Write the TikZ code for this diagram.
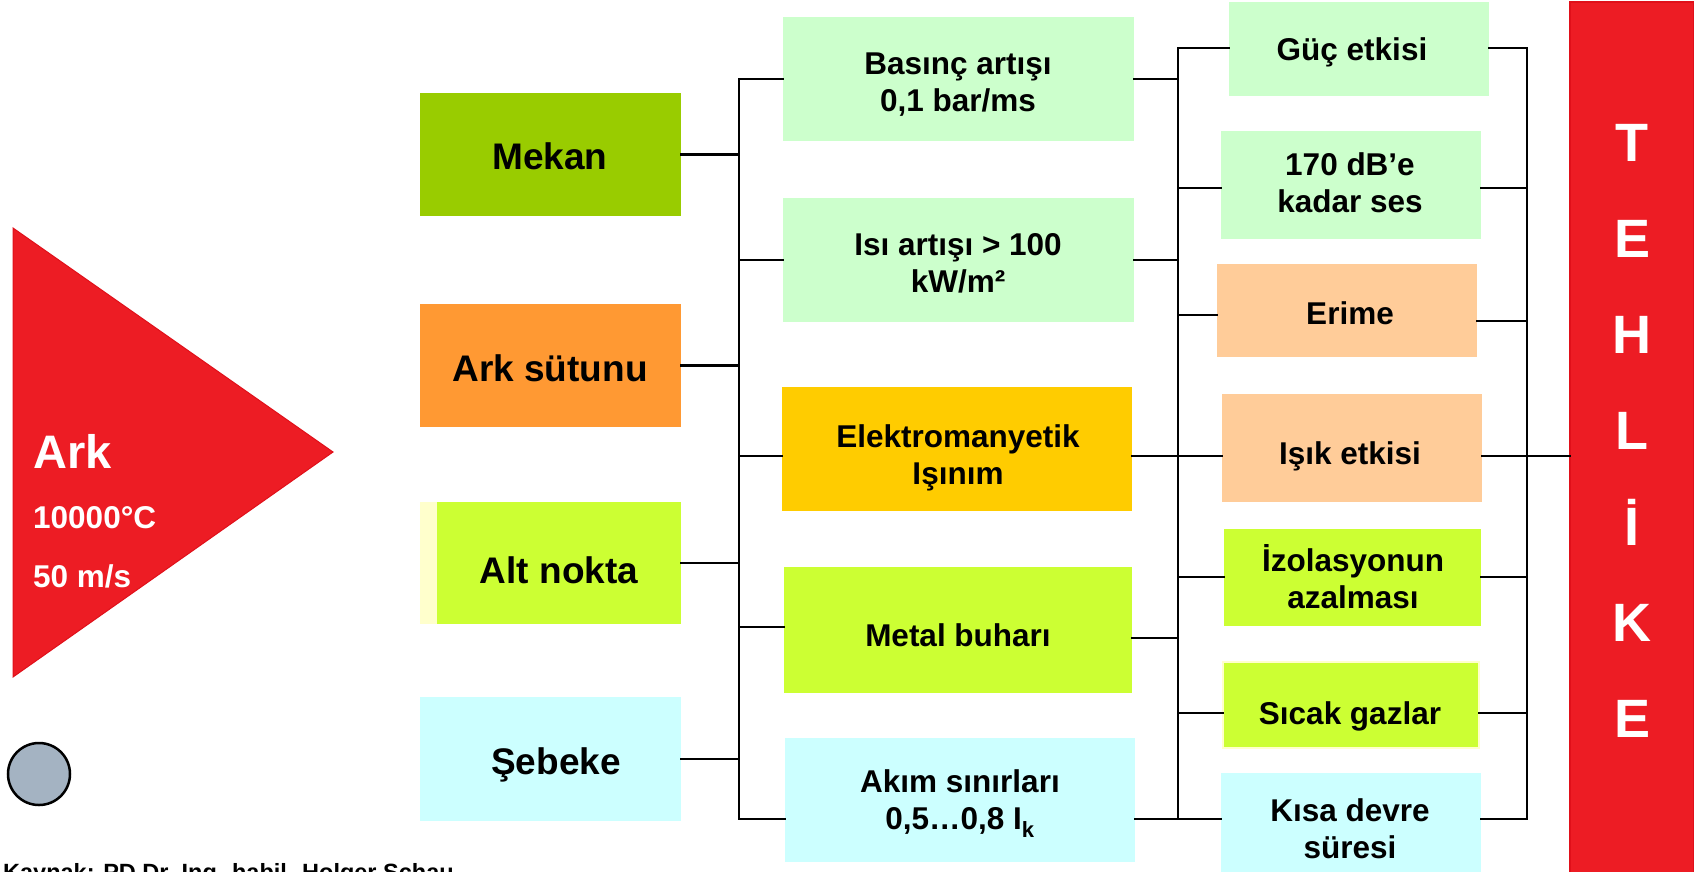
\documentclass[tikz,border=0pt]{standalone}
\usepackage{fontspec}
\setmainfont{Liberation Sans}

% struts that centre a line on its capital letters
\newcommand\topstrt{\rule{0pt}{0.966em}}
\newcommand\botstrt{\rule[-0.25em]{0pt}{0.25em}}

\definecolor{arcred}{HTML}{ED1C24}
\definecolor{arcedge}{HTML}{E0101A}
\definecolor{dotgray}{HTML}{A4B3C2}
\definecolor{cMekan}{HTML}{99CC00}
\definecolor{cSutun}{HTML}{FF9933}
\definecolor{cLime}{HTML}{CCFF33}
\definecolor{cPale}{HTML}{FFFFCC}
\definecolor{cCyan}{HTML}{CCFFFF}
\definecolor{cMint}{HTML}{CCFFCC}
\definecolor{cGold}{HTML}{FFCC00}
\definecolor{cPeach}{HTML}{FFCC99}

\begin{document}
\begin{tikzpicture}[x=1pt,y=-1pt,
  panel/.style={rectangle, inner sep=0pt, outer sep=0pt},
  lbl/.style={inner sep=0pt, align=center, font=\bfseries\fontsize{31.5}{37}\selectfont},
  biglbl/.style={inner sep=0pt, align=center, font=\bfseries\fontsize{37}{44}\selectfont},
  letter/.style={inner sep=0pt, text=white, font=\bfseries\fontsize{54}{60}\selectfont},
  wire/.style={line width=2.2pt, line cap=rect, black}]

\fill[white] (0,0) rectangle (1694,871);
\useasboundingbox (0,0) rectangle (1694,871);

% the arc triangle
\fill[arcred, draw=arcedge, line width=1pt] (13,228) -- (333,452) -- (13,677) -- cycle;
\node[anchor=base west, inner sep=0pt, text=white, font=\bfseries\fontsize{47}{50}\selectfont] (arkt) at (33,468) {Ark};
\node[anchor=base west, inner sep=0pt, text=white, font=\bfseries\fontsize{31.5}{36}\selectfont] (temp) at (33,528) {10000°C};
\node[anchor=base west, inner sep=0pt, text=white, font=\bfseries\fontsize{31.5}{36}\selectfont] (speed) at (33,587) {50 m/s};

\draw[fill=dotgray, line width=2.5pt] (39,774) circle[radius=31];

\node[anchor=base west, inner sep=0pt, font=\bfseries\fontsize{23.5}{26}\selectfont] (src) at (3,880) {Kaynak: PD Dr.-Ing. habil. Holger Schau};

% causes
\node[panel, fill=cMekan, minimum width=261, minimum height=123] (mekan) at (550.5,154.5) {};
\node[biglbl] (mekan-t) at (550,156.5) {\topstrt Mekan\botstrt};
\node[panel, fill=cSutun, minimum width=261, minimum height=123] (arksut) at (550.5,365.5) {};
\node[biglbl] (arksut-t) at (550,368) {\topstrt Ark sütunu\botstrt};
\fill[cPale] (420,502) rectangle (437,624);
\node[panel, fill=cLime, minimum width=244, minimum height=122] (alt) at (559,563) {};
\node[biglbl] (alt-t) at (559,570) {\topstrt Alt nokta\botstrt};
\node[panel, fill=cCyan, minimum width=261, minimum height=124] (sebeke) at (550.5,759) {};
\node[biglbl] (sebeke-t) at (556,761) {\topstrt Şebeke\botstrt};

% effects
\node[panel, fill=cMint, minimum width=351, minimum height=124] (basinc) at (958.5,79) {};
\node[lbl] (basinc-t) at (958,82) {\topstrt Basınç artışı\\0,1 bar/ms\botstrt};
\node[panel, fill=cMint, minimum width=351, minimum height=124] (isi) at (958.5,260) {};
\node[lbl] (isi-t) at (958,263) {\topstrt Isı artışı > 100\\kW/m²\botstrt};
\node[panel, fill=cGold, minimum width=350, minimum height=124] (elektro) at (957,449) {};
\node[lbl] (elektro-t) at (958,455) {\topstrt Elektromanyetik\\Işınım\botstrt};
\node[panel, fill=cLime, minimum width=348, minimum height=126] (metal) at (958,630) {};
\node[lbl] (metal-t) at (958,635.5) {\topstrt Metal buharı\botstrt};
\node[panel, fill=cCyan, minimum width=350, minimum height=124] (akim) at (960,800) {};
\node[lbl] (akim-t) at (960,800) {\topstrt Akım sınırları\\0,5…0,8 I\textsubscript{k}\botstrt};

% consequences
\node[panel, fill=cMint, minimum width=260, minimum height=94] (guc) at (1359,49) {};
\node[lbl] (guc-t) at (1352,49) {\topstrt Güç etkisi\botstrt};
\node[panel, fill=cMint, minimum width=260, minimum height=108] (ses) at (1351,185) {};
\node[lbl] (ses-t) at (1350,182.5) {\topstrt 170 dB’e\\kadar ses\botstrt};
\node[panel, fill=cPeach, minimum width=260, minimum height=93] (erime) at (1347,310.5) {};
\node[lbl] (erime-t) at (1350,313.5) {\topstrt Erime\botstrt};
\node[panel, fill=cPeach, minimum width=260, minimum height=108] (isik) at (1352,448) {};
\node[lbl] (isik-t) at (1350,453) {\topstrt Işık etkisi\botstrt};
\node[panel, fill=cLime, minimum width=257, minimum height=97] (izol) at (1352.5,577.5) {};
\node[lbl] (izol-t) at (1353,578.5) {\topstrt İzolasyonun\\azalması\botstrt};
\node[panel, fill=cLime, draw=cPale, line width=2pt, minimum width=256, minimum height=86] (sicak) at (1351,705) {};
\node[lbl] (sicak-t) at (1350,713) {\topstrt Sıcak gazlar\botstrt};
\node[panel, fill=cCyan, minimum width=260, minimum height=112] (kisa) at (1351,829) {};
\node[lbl] (kisa-t) at (1350,828.5) {\topstrt Kısa devre\\süresi\botstrt};

% danger bar
\node[panel, fill=arcred, draw=arcedge, line width=1.5pt, minimum width=124, minimum height=878] (tehlike) at (1632,441) {};
\node[letter] (l1) at (1632,142) {\topstrt T\botstrt};
\node[letter] (l2) at (1632,238) {\topstrt E\botstrt};
\node[letter] (l3) at (1632,334) {\topstrt H\botstrt};
\node[letter] (l4) at (1632,430) {\topstrt L\botstrt};
\node[letter] (l5) at (1632,526) {\topstrt İ\botstrt};
\node[letter] (l6) at (1632,622) {\topstrt K\botstrt};
\node[letter] (l7) at (1632,718) {\topstrt E\botstrt};

% bus lines
\coordinate (b1t) at (739,79);   \coordinate (b1b) at (739,819);
\coordinate (b2t) at (1178,48);  \coordinate (b2b) at (1178,819);
\coordinate (b3t) at (1527,48);  \coordinate (b3b) at (1527,819);

\draw[wire] (b1t) -- (b1b);
\draw[wire] (b2t) -- (b2b);
\draw[wire] (b3t) -- (b3b);

% causes to first bus
\draw[wire] (mekan.east) -- (mekan.east -| b1t);
\draw[wire] (arksut.east) -- (arksut.east -| b1t);
\draw[wire] (alt.east) -- (alt.east -| b1t);
\draw[wire] (sebeke.east) -- (sebeke.east -| b1t);

% first bus to effects
\draw[wire] (b1t) -- (basinc.west |- b1t);
\draw[wire] (b1t |- 0,260) -- (isi.west |- 0,260);
\draw[wire] (b1t |- 0,456) -- (elektro.west |- 0,456);
\draw[wire] (b1t |- 0,627) -- (metal.west |- 0,627);
\draw[wire] (b1b) -- (akim.west |- b1b);

% effects to second bus
\draw[wire] (basinc.east |- 0,79) -- (b2t |- 0,79);
\draw[wire] (isi.east |- 0,260) -- (b2t |- 0,260);
\draw[wire] (elektro.east |- 0,456) -- (b2t |- 0,456);
\draw[wire] (metal.east |- 0,638) -- (b2t |- 0,638);
\draw[wire] (akim.east |- b2b) -- (b2b);

% second bus to consequences
\draw[wire] (b2t) -- (guc.west |- b2t);
\draw[wire] (b2t |- 0,188) -- (ses.west |- 0,188);
\draw[wire] (b2t |- 0,315) -- (erime.west |- 0,315);
\draw[wire] (b2t |- 0,456) -- (isik.west |- 0,456);
\draw[wire] (b2t |- 0,577) -- (izol.west |- 0,577);
\draw[wire] (b2t |- 0,713) -- (sicak.west |- 0,713);
\draw[wire] (b2b) -- (kisa.west |- b2b);

% consequences to third bus
\draw[wire] (guc.east |- b3t) -- (b3t);
\draw[wire] (ses.east |- 0,188) -- (b3t |- 0,188);
\draw[wire] (erime.east |- 0,321) -- (b3t |- 0,321);
\draw[wire] (isik.east |- 0,456) -- (b3t |- 0,456);
\draw[wire] (izol.east |- 0,577) -- (b3t |- 0,577);
\draw[wire] (sicak.east |- 0,713) -- (b3t |- 0,713);
\draw[wire] (kisa.east |- b3b) -- (b3b);

% third bus to the danger bar
\draw[wire] (b3t |- 0,456) -- (tehlike.west |- 0,456);

\end{tikzpicture}
\end{document}
